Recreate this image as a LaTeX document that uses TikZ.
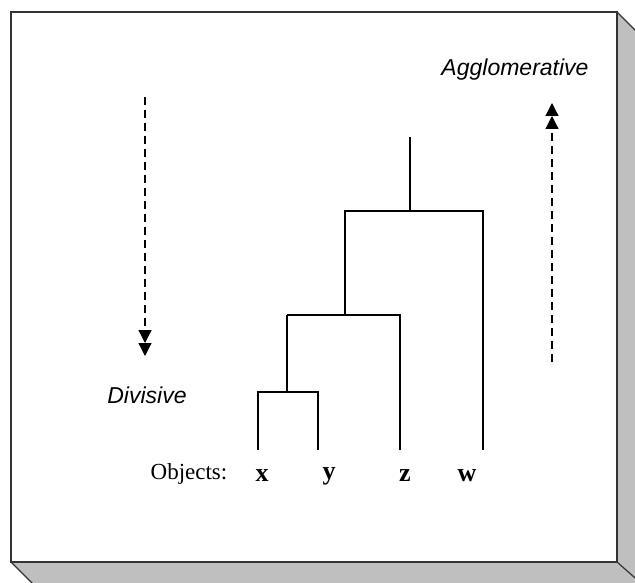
\documentclass[tikz,border=0pt]{standalone}
\usepackage{fontspec}
\setmainfont{Liberation Serif}
\newfontfamily\arialish{Liberation Sans}
\usetikzlibrary{arrows.meta}
\begin{document}
\begin{tikzpicture}[x=1pt,y=-1pt,
  bevel/.style={fill=black!25,draw=black!80,line width=1.2pt,line join=round},
  face/.style={fill=white,draw=black!80,line width=1.6pt},
  tree/.style={line width=1.3pt,black},
  flow/.style={line width=1.2pt,dash pattern=on 8pt off 5pt,
    -{Triangle[width=13pt,length=13pt]Triangle[width=13pt,length=13pt]}},
  direction/.style={font=\arialish\itshape\fontsize{23}{27}\selectfont},
  obj/.style={font=\fontsize{26}{30}\selectfont\bfseries}]
\useasboundingbox (0,0) rectangle (635,583);
\clip (0,0) rectangle (635,583);
% raised box: bevels behind, front face on top
\path[bevel] (617,12) -- (640,35) -- (640,600) -- (617,562) -- cycle;
\path[bevel] (11,562) -- (34,585) -- (34,600) -- (660,600) -- (617,562) -- cycle;
\path[face] (11,12) rectangle (617,562);
% direction labels and arrows
\node[direction] (agg) at (515,70) {Agglomerative};
\node[direction] (div) at (147,395) {Divisive};
\coordinate (dtop) at (145,97);
\coordinate (dbot) at (145,356);
\coordinate (abot) at (552,362);
\coordinate (atop) at (552,103);
\draw[flow] (dtop) -- (dbot);
\draw[flow] (abot) -- (atop);
% leaves
\node[font=\fontsize{23}{27}\selectfont] (objects) at (189,474) {Objects:};
\node[obj] (x) at (262,476) {x};
\node[obj] (y) at (329,476) {y};
\node[obj] (z) at (405,476) {z};
\node[obj] (w) at (467,476) {w};
\coordinate (lx) at (258,450);
\coordinate (ly) at (318,450);
\coordinate (lz) at (400,450);
\coordinate (lw) at (483,450);
% merge heights
\coordinate (mxy) at (287,392);
\coordinate (mxyz) at (345,315);
\coordinate (mall) at (410,211);
\coordinate (root) at (410,137);
\draw[tree] (lx) |- (mxy) -| (ly);
\draw[tree] (mxy) -- (287,315);
\draw[tree] (287,315) -| (lz);
\draw[tree] (mxyz) -- (345,211) -| (lw);
\draw[tree] (mall) -- (root);
\end{tikzpicture}
\end{document}
